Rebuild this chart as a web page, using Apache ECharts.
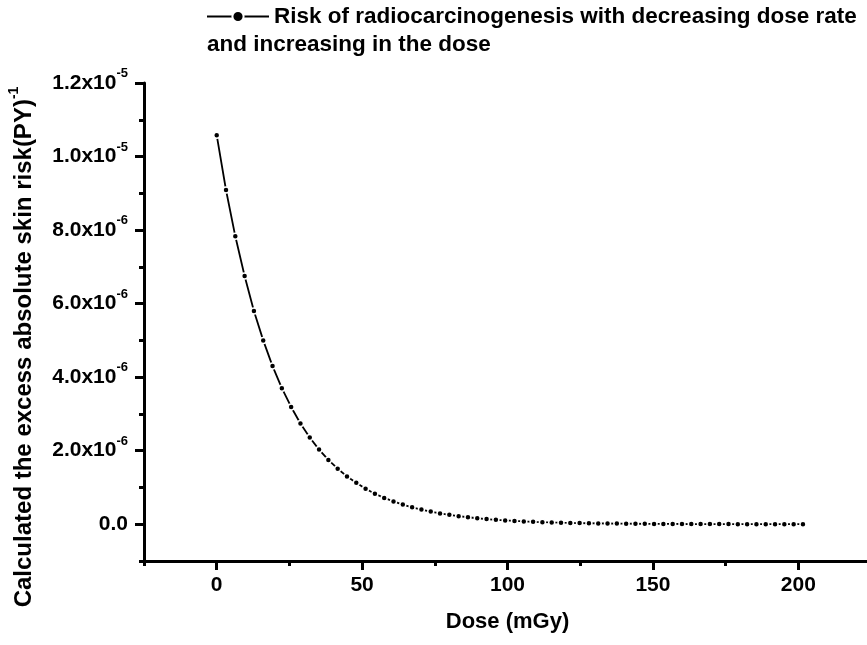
<!DOCTYPE html>
<html>
<head>
<meta charset="utf-8">
<script src="https://cdn.jsdelivr.net/npm/echarts@6/dist/echarts.min.js"></script>
<style>
html, body { margin: 0; padding: 0; background: #fff; }
#chart { width: 867px; height: 645px; }
</style>
</head>
<body>
<div id="chart"></div>
<script>
// dose values (mGy)
var dose = [0, 3.2, 6.4, 9.6, 12.8, 16, 19.2, 22.4, 25.6, 28.8, 32, 35.2, 38.4, 41.6, 44.8, 48,
    51.2, 54.4, 57.6, 60.8, 64, 67.2, 70.4, 73.6, 76.8, 80, 83.2, 86.4, 89.6, 92.8, 96, 99.2,
    102.4, 105.6, 108.8, 112, 115.2, 118.4, 121.6, 124.8, 128, 131.2, 134.4, 137.6, 140.8, 144, 147.2, 150.4,
    153.6, 156.8, 160, 163.2, 166.4, 169.6, 172.8, 176, 179.2, 182.4, 185.6, 188.8, 192, 195.2, 198.4, 201.6];

// risk, in units of 1e-6 (PY)^-1
var riskE6 = [10.58, 9.09, 7.83, 6.75, 5.80, 5.00, 4.30, 3.70, 3.19, 2.74, 2.36, 2.03, 1.75, 1.51, 1.30, 1.13,
    0.965, 0.83, 0.715, 0.62, 0.535, 0.46, 0.40, 0.345, 0.295, 0.255, 0.22, 0.19, 0.163, 0.14, 0.12, 0.104,
    0.09, 0.077, 0.066, 0.057, 0.049, 0.042, 0.036, 0.031, 0.027, 0.023, 0.02, 0.017, 0.015, 0.013, 0.011, 0.0095,
    0.008, 0.007, 0.006, 0.0052, 0.0045, 0.0039, 0.0033, 0.0029, 0.0025, 0.0021, 0.0018, 0.0016, 0.0014, 0.0012, 0.001, 0.0009];

var xMajor = [0, 50, 100, 150, 200];
var xMinor = [-25, 25, 75, 125, 175, 225];
var yMajor = [0, 2e-6, 4e-6, 6e-6, 8e-6, 1e-5, 1.2e-5];
var yMinor = [-1e-6, 1e-6, 3e-6, 5e-6, 7e-6, 9e-6, 1.1e-5];

var seriesName = 'Risk of radiocarcinogenesis with decreasing dose rate';
var FONT = '"Liberation Sans", Arial, sans-serif';

var pts = [];
for (var i = 0; i < dose.length; i++) {
    pts.push([dose[i], riskE6[i] * 1e-6]);
}

function sciLabel(v) {
    if (Math.abs(v) < 1e-12) return '{a|0.0}';
    var e = Math.floor(Math.log10(v) + 1e-9);
    var m = v / Math.pow(10, e);
    return '{a|' + m.toFixed(1) + 'x10}{s|' + e + '}';
}

var richLab = {
    a: {fontFamily: FONT, fontWeight: 'bold', fontSize: 21, color: '#000', lineHeight: 32},
    s: {fontFamily: FONT, fontWeight: 'bold', fontSize: 13, color: '#000', verticalAlign: 'top', lineHeight: 15}
};

var chart = echarts.init(document.getElementById('chart'));
chart.setOption({
    animation: false,
    backgroundColor: '#fff',
    grid: {left: 144, right: -4, top: 83, bottom: 84, outerBoundsMode: 'none', containLabel: false},
    legend: {
        left: 206, top: 5, padding: 0,
        itemWidth: 62, itemHeight: 14, itemGap: 5,
        data: [seriesName],
        textStyle: {fontFamily: FONT, fontWeight: 'bold', fontSize: 22.5, color: '#000'}
    },
    title: {
        text: 'and increasing in the dose',
        left: 207, top: 33, padding: 0,
        textStyle: {fontFamily: FONT, fontWeight: 'bold', fontSize: 22.5, color: '#000'}
    },
    xAxis: [{
        type: 'value', min: -25, max: 225,
        name: 'Dose (mGy)', nameLocation: 'middle', nameGap: 50,
        nameTextStyle: {fontFamily: FONT, fontWeight: 'bold', fontSize: 22, color: '#000'},
        axisLine: {onZero: false, lineStyle: {color: '#000', width: 3}},
        axisTick: {customValues: xMajor, length: 9, lineStyle: {color: '#000', width: 3}},
        axisLabel: {customValues: xMajor, margin: 14, fontFamily: FONT, fontWeight: 'bold', fontSize: 21, color: '#000'},
        splitLine: {show: false}
    }, {
        type: 'value', min: -25, max: 225, position: 'bottom',
        axisLine: {show: false, onZero: false},
        axisTick: {customValues: xMinor, length: 5, lineStyle: {color: '#000', width: 3}},
        axisLabel: {show: false},
        splitLine: {show: false}
    }],
    yAxis: [{
        type: 'value', min: -1e-6, max: 1.2e-5,
        name: '{a|Calculated the excess absolute skin risk(PY)}{s|-1}',
        nameLocation: 'middle', nameGap: 103,
        nameTextStyle: {padding: [0, 50, 0, 0], rich: {
            a: {fontFamily: FONT, fontWeight: 'bold', fontSize: 24, color: '#000', lineHeight: 34},
            s: {fontFamily: FONT, fontWeight: 'bold', fontSize: 14, color: '#000', verticalAlign: 'top', lineHeight: 16}
        }},
        axisLine: {onZero: false, lineStyle: {color: '#000', width: 3}},
        axisTick: {customValues: yMajor, length: 9, lineStyle: {color: '#000', width: 3}},
        axisLabel: {customValues: yMajor, margin: 16, formatter: sciLabel, rich: richLab},
        splitLine: {show: false}
    }, {
        type: 'value', min: -1e-6, max: 1.2e-5, position: 'left',
        axisLine: {show: false, onZero: false},
        axisTick: {customValues: yMinor, length: 5, lineStyle: {color: '#000', width: 3}},
        axisLabel: {show: false},
        splitLine: {show: false}
    }],
    series: [{
        name: seriesName,
        type: 'line',
        data: pts,
        symbol: 'circle',
        symbolSize: 6,
        lineStyle: {color: '#000', width: 1.8},
        itemStyle: {color: '#000', borderColor: '#fff', borderWidth: 1.5}
    }]
});
</script>
</body>
</html>
